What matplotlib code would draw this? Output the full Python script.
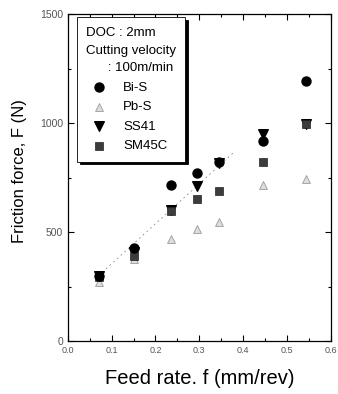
import matplotlib
matplotlib.use("Agg")
import matplotlib.pyplot as plt
from matplotlib.ticker import MultipleLocator

plt.rcParams["font.family"] = ["Liberation Sans", "DejaVu Sans"]

feed = [0.07, 0.15, 0.235, 0.295, 0.345, 0.445, 0.545]
bi_s = [298, 425, 718, 772, 822, 920, 1192]
pb_s = [272, 378, 468, 514, 544, 718, 743]
ss41 = [300, 410, 600, 712, 818, 950, 998]
sm45c = [292, 392, 598, 651, 690, 822, 997]
trend_x = [0.07, 0.38]
trend_y = [300, 868]

fig = plt.figure(figsize=(3.38, 3.94), dpi=100)
ax = fig.add_axes([0.201, 0.1345, 0.777, 0.8295])

ax.plot(trend_x, trend_y, color="#888888", lw=0.6, ls=(0, (2, 4)), zorder=1)

ax.scatter(feed, pb_s, marker="^", s=32, facecolor="#dddddd", edgecolor="#999999",
           linewidths=0.6, label="Pb-S", zorder=3)
ax.scatter(feed, ss41, marker="v", s=48, facecolor="black", edgecolor="black",
           label="SS41", zorder=4)
ax.scatter(feed, sm45c, marker="s", s=38, facecolor="#3c3c3c", edgecolor="#222222",
           linewidths=0.5, label="SM45C", zorder=5)
ax.scatter(feed, bi_s, marker="o", s=42, facecolor="black", edgecolor="black",
           label="Bi-S", zorder=6)

ax.set_xlim(0, 0.6)
ax.set_ylim(0, 1500)
ax.xaxis.set_major_locator(MultipleLocator(0.1))
ax.xaxis.set_minor_locator(MultipleLocator(0.05))
ax.yaxis.set_major_locator(MultipleLocator(500))
ax.yaxis.set_minor_locator(MultipleLocator(250))
ax.tick_params(which="both", direction="in", top=True, right=True, width=0.8,
               labelcolor="#555555")
ax.tick_params(axis="x", labelsize=6.5)
ax.tick_params(axis="y", labelsize=7.5)
ax.tick_params(which="major", length=4)
ax.tick_params(which="minor", length=2.5)
ax.set_xticklabels([f"{v:.1f}" for v in ax.get_xticks()])
for s in ax.spines.values():
    s.set_linewidth(0.9)

ax.set_xlabel("Feed rate. f (mm/rev)", fontsize=14.5, labelpad=10)
ax.set_ylabel("Friction force, F (N)", fontsize=12)
ax.yaxis.set_label_coords(-0.156, 0.52)

h, l = ax.get_legend_handles_labels()
order = [l.index(n) for n in ["Bi-S", "Pb-S", "SS41", "SM45C"]]
leg = ax.legend([h[i] for i in order], [l[i] for i in order],
                title="DOC : 2mm\nCutting velocity\n      : 100m/min",
                title_fontsize=9.5, fontsize=9.5, alignment="left",
                loc="upper left", bbox_to_anchor=(0.034, 0.99), borderaxespad=0,
                fancybox=False, shadow={"color": "black", "alpha": 1},
                edgecolor="black", framealpha=1, handletextpad=0.8,
                borderpad=0.7, labelspacing=0.55)
leg.get_frame().set_linewidth(0.6)
leg.get_title().set_linespacing(1.65)

fig.savefig("out.png", dpi=100)
